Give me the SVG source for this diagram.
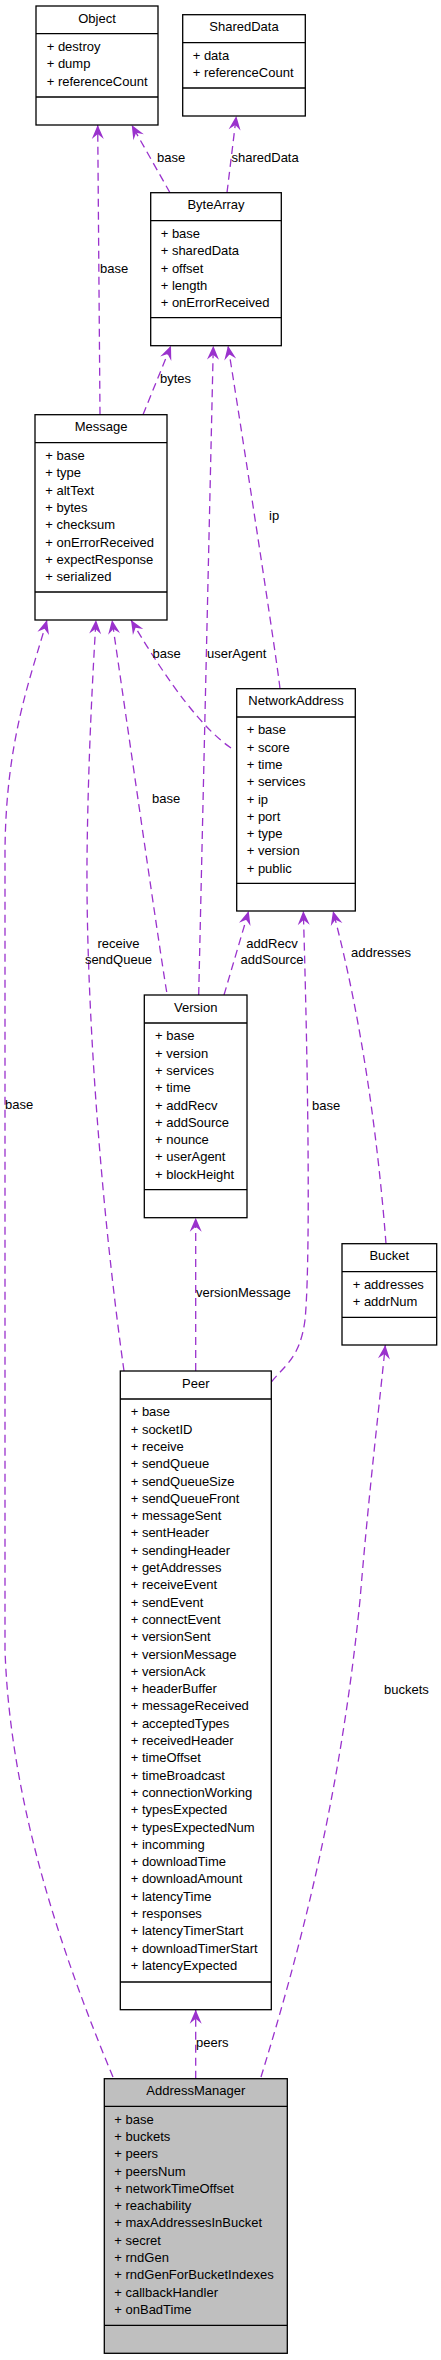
<svg xmlns="http://www.w3.org/2000/svg" width="441" height="2360" viewBox="0 0 441 2360">
<style>
.box{fill:#fff;stroke:#000;stroke-width:1.3}
.am{fill:#bfbfbf}
.ln{stroke:#000;stroke-width:1.3}
text{font-family:"Liberation Sans",Arial,Helvetica,sans-serif;font-size:13px;fill:#000}
.c{text-anchor:middle}
.e{fill:none;stroke:#9a32cd;stroke-width:1.3;stroke-dasharray:8,5}
</style>
<defs>
<marker id="arr" markerUnits="userSpaceOnUse" markerWidth="16" markerHeight="14" viewBox="-15 -7 16 14" refX="0" refY="0" orient="auto">
<path d="M0,0 L-14,-6 L-9,0 L-14,6 Z" fill="#9a32cd"/>
</marker>
</defs>
<rect width="441" height="2360" fill="#fff"/>

<g id="edges">
<path class="e" marker-end="url(#arr)" d="M100,414.7 L97.7,125"/>
<path class="e" marker-end="url(#arr)" d="M170,192.7 L131.7,125"/>
<path class="e" marker-end="url(#arr)" d="M227,192.7 L236.3,116"/>
<path class="e" marker-end="url(#arr)" d="M143,414.7 L171,345.7"/>
<path class="e" marker-end="url(#arr)" d="M198.7,995 L213.3,345.7"/>
<path class="e" marker-end="url(#arr)" d="M280,688.7 C277,660 240,420 228,345.7"/>
<path class="e" marker-end="url(#arr)" d="M231,748 Q190,720 131,620"/>
<path class="e" marker-end="url(#arr)" d="M166.7,992 C158,940 118,660 112,620"/>
<path class="e" marker-end="url(#arr)" d="M124,1371 C100,1200 86,1000 87,860 C88,760 93,670 96,620"/>
<path class="e" marker-end="url(#arr)" d="M113,2077 C60,1950 10,1800 5,1650 L5,850 C6,740 30,680 47,620"/>
<path class="e" marker-end="url(#arr)" d="M224,995 L248.7,911"/>
<path class="e" marker-end="url(#arr)" d="M271.3,1382 C285,1365 300,1358 305,1320 C310,1270 309,1100 303.3,911"/>
<path class="e" marker-end="url(#arr)" d="M386,1243.7 C378,1140 362,1020 333,911"/>
<path class="e" marker-end="url(#arr)" d="M195.7,1371 L195.7,1217.7"/>
<path class="e" marker-end="url(#arr)" d="M195.7,2078.7 L195.7,2009.7"/>
<path class="e" marker-end="url(#arr)" d="M261,2077 C300,1950 340,1800 360,1600 C370,1480 380,1400 385.3,1345"/>
<text x="100" y="272.5">base</text>
<text x="157" y="162.3">base</text>
<text x="231.5" y="162.3">sharedData</text>
<text x="160" y="383">bytes</text>
<text x="207" y="657.7">userAgent</text>
<text x="269" y="520">ip</text>
<text x="152.5" y="657.7">base</text>
<text x="152" y="803.3">base</text>
<text class="c" x="118.5" y="948.3">receive</text>
<text class="c" x="118.5" y="964.3">sendQueue</text>
<text x="5" y="1109.3">base</text>
<text class="c" x="272" y="948.3">addRecv</text>
<text class="c" x="272" y="964.3">addSource</text>
<text x="312" y="1110">base</text>
<text x="351" y="956.7">addresses</text>
<text x="196" y="1297.3">versionMessage</text>
<text x="196" y="2047.3">peers</text>
<text x="384" y="1694">buckets</text>
</g>

<g id="Object">
<rect class="box" x="36" y="6" width="122" height="119"/>
<line class="ln" x1="36" y1="33.7" x2="158" y2="33.7"/>
<line class="ln" x1="36" y1="97" x2="158" y2="97"/>
<text class="c" x="97" y="22.5">Object</text>
<text x="46.7" y="51"><tspan x="46.7">+ destroy</tspan><tspan x="46.7" dy="17.3">+ dump</tspan><tspan x="46.7" dy="17.3">+ referenceCount</tspan></text>
</g>

<g id="SharedData">
<rect class="box" x="182.7" y="14.7" width="122.6" height="101.3"/>
<line class="ln" x1="182.7" y1="42.7" x2="305.3" y2="42.7"/>
<line class="ln" x1="182.7" y1="88" x2="305.3" y2="88"/>
<text class="c" x="244" y="31.2">SharedData</text>
<text x="192.7" y="60"><tspan x="192.7">+ data</tspan><tspan x="192.7" dy="17.3">+ referenceCount</tspan></text>
</g>

<g id="ByteArray">
<rect class="box" x="150.7" y="192.7" width="130.6" height="153"/>
<line class="ln" x1="150.7" y1="220.7" x2="281.3" y2="220.7"/>
<line class="ln" x1="150.7" y1="317.7" x2="281.3" y2="317.7"/>
<text class="c" x="216" y="209.2">ByteArray</text>
<text x="160.7" y="238"><tspan x="160.7">+ base</tspan><tspan x="160.7" dy="17.3">+ sharedData</tspan><tspan x="160.7" dy="17.3">+ offset</tspan><tspan x="160.7" dy="17.3">+ length</tspan><tspan x="160.7" dy="17.3">+ onErrorReceived</tspan></text>
</g>

<g id="Message">
<rect class="box" x="35" y="414.7" width="132" height="205.3"/>
<line class="ln" x1="35" y1="442.7" x2="167" y2="442.7"/>
<line class="ln" x1="35" y1="592" x2="167" y2="592"/>
<text class="c" x="101" y="431.2">Message</text>
<text x="45.3" y="460"><tspan x="45.3">+ base</tspan><tspan x="45.3" dy="17.3">+ type</tspan><tspan x="45.3" dy="17.3">+ altText</tspan><tspan x="45.3" dy="17.3">+ bytes</tspan><tspan x="45.3" dy="17.3">+ checksum</tspan><tspan x="45.3" dy="17.3">+ onErrorReceived</tspan><tspan x="45.3" dy="17.3">+ expectResponse</tspan><tspan x="45.3" dy="17.3">+ serialized</tspan></text>
</g>

<g id="NetworkAddress">
<rect class="box" x="236.7" y="688.7" width="118.6" height="222.3"/>
<line class="ln" x1="236.7" y1="717" x2="355.3" y2="717"/>
<line class="ln" x1="236.7" y1="883.3" x2="355.3" y2="883.3"/>
<text class="c" x="296" y="705.2">NetworkAddress</text>
<text x="246.7" y="734.3"><tspan x="246.7">+ base</tspan><tspan x="246.7" dy="17.3">+ score</tspan><tspan x="246.7" dy="17.3">+ time</tspan><tspan x="246.7" dy="17.3">+ services</tspan><tspan x="246.7" dy="17.3">+ ip</tspan><tspan x="246.7" dy="17.3">+ port</tspan><tspan x="246.7" dy="17.3">+ type</tspan><tspan x="246.7" dy="17.3">+ version</tspan><tspan x="246.7" dy="17.3">+ public</tspan></text>
</g>

<g id="Version">
<rect class="box" x="144.3" y="995" width="102.7" height="222.7"/>
<line class="ln" x1="144.3" y1="1023" x2="247" y2="1023"/>
<line class="ln" x1="144.3" y1="1189.7" x2="247" y2="1189.7"/>
<text class="c" x="195.7" y="1011.5">Version</text>
<text x="155" y="1040.3"><tspan x="155">+ base</tspan><tspan x="155" dy="17.3">+ version</tspan><tspan x="155" dy="17.3">+ services</tspan><tspan x="155" dy="17.3">+ time</tspan><tspan x="155" dy="17.3">+ addRecv</tspan><tspan x="155" dy="17.3">+ addSource</tspan><tspan x="155" dy="17.3">+ nounce</tspan><tspan x="155" dy="17.3">+ userAgent</tspan><tspan x="155" dy="17.3">+ blockHeight</tspan></text>
</g>

<g id="Bucket">
<rect class="box" x="342" y="1243.7" width="94.7" height="101.3"/>
<line class="ln" x1="342" y1="1271.7" x2="436.7" y2="1271.7"/>
<line class="ln" x1="342" y1="1317.3" x2="436.7" y2="1317.3"/>
<text class="c" x="389.3" y="1260.2">Bucket</text>
<text x="352.7" y="1289"><tspan x="352.7">+ addresses</tspan><tspan x="352.7" dy="17.3">+ addrNum</tspan></text>
</g>

<g id="Peer">
<rect class="box" x="120.3" y="1371" width="151" height="638.7"/>
<line class="ln" x1="120.3" y1="1399" x2="271.3" y2="1399"/>
<line class="ln" x1="120.3" y1="1982" x2="271.3" y2="1982"/>
<text class="c" x="195.8" y="1387.5">Peer</text>
<text x="130.7" y="1416.3"><tspan x="130.7">+ base</tspan><tspan x="130.7" dy="17.3">+ socketID</tspan><tspan x="130.7" dy="17.3">+ receive</tspan><tspan x="130.7" dy="17.3">+ sendQueue</tspan><tspan x="130.7" dy="17.3">+ sendQueueSize</tspan><tspan x="130.7" dy="17.3">+ sendQueueFront</tspan><tspan x="130.7" dy="17.3">+ messageSent</tspan><tspan x="130.7" dy="17.3">+ sentHeader</tspan><tspan x="130.7" dy="17.3">+ sendingHeader</tspan><tspan x="130.7" dy="17.3">+ getAddresses</tspan><tspan x="130.7" dy="17.3">+ receiveEvent</tspan><tspan x="130.7" dy="17.3">+ sendEvent</tspan><tspan x="130.7" dy="17.3">+ connectEvent</tspan><tspan x="130.7" dy="17.3">+ versionSent</tspan><tspan x="130.7" dy="17.3">+ versionMessage</tspan><tspan x="130.7" dy="17.3">+ versionAck</tspan><tspan x="130.7" dy="17.3">+ headerBuffer</tspan><tspan x="130.7" dy="17.3">+ messageReceived</tspan><tspan x="130.7" dy="17.3">+ acceptedTypes</tspan><tspan x="130.7" dy="17.3">+ receivedHeader</tspan><tspan x="130.7" dy="17.3">+ timeOffset</tspan><tspan x="130.7" dy="17.3">+ timeBroadcast</tspan><tspan x="130.7" dy="17.3">+ connectionWorking</tspan><tspan x="130.7" dy="17.3">+ typesExpected</tspan><tspan x="130.7" dy="17.3">+ typesExpectedNum</tspan><tspan x="130.7" dy="17.3">+ incomming</tspan><tspan x="130.7" dy="17.3">+ downloadTime</tspan><tspan x="130.7" dy="17.3">+ downloadAmount</tspan><tspan x="130.7" dy="17.3">+ latencyTime</tspan><tspan x="130.7" dy="17.3">+ responses</tspan><tspan x="130.7" dy="17.3">+ latencyTimerStart</tspan><tspan x="130.7" dy="17.3">+ downloadTimerStart</tspan><tspan x="130.7" dy="17.3">+ latencyExpected</tspan></text>
</g>

<g id="AddressManager">
<rect class="box am" x="104.3" y="2078.7" width="183" height="274.6"/>
<line class="ln" x1="104.3" y1="2106.3" x2="287.3" y2="2106.3"/>
<line class="ln" x1="104.3" y1="2325.3" x2="287.3" y2="2325.3"/>
<text class="c" x="195.8" y="2095.2">AddressManager</text>
<text x="114.3" y="2123.6"><tspan x="114.3">+ base</tspan><tspan x="114.3" dy="17.3">+ buckets</tspan><tspan x="114.3" dy="17.3">+ peers</tspan><tspan x="114.3" dy="17.3">+ peersNum</tspan><tspan x="114.3" dy="17.3">+ networkTimeOffset</tspan><tspan x="114.3" dy="17.3">+ reachability</tspan><tspan x="114.3" dy="17.3">+ maxAddressesInBucket</tspan><tspan x="114.3" dy="17.3">+ secret</tspan><tspan x="114.3" dy="17.3">+ rndGen</tspan><tspan x="114.3" dy="17.3">+ rndGenForBucketIndexes</tspan><tspan x="114.3" dy="17.3">+ callbackHandler</tspan><tspan x="114.3" dy="17.3">+ onBadTime</tspan></text>
</g>
</svg>
